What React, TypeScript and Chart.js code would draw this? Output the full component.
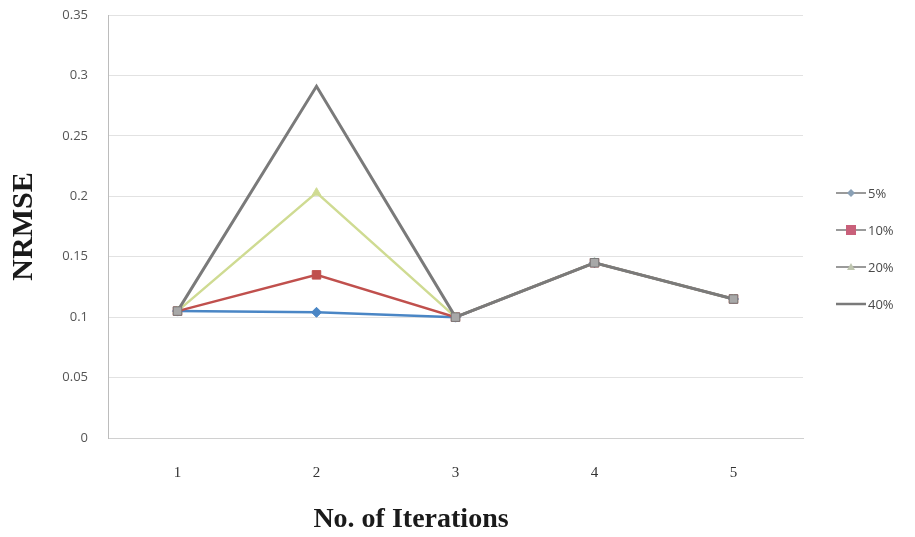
import React, { useEffect, useRef } from "react";
import { Chart, registerables } from "chart.js";

Chart.register(...registerables);

const categories = ["1", "2", "3", "4", "5"];
const seriesNames = ["5%", "10%", "20%", "40%"];
const s5 = [0.105, 0.104, 0.1, 0.145, 0.115];
const s10 = [0.105, 0.135, 0.1, 0.145, 0.115];
const s20 = [0.105, 0.203, 0.1, 0.145, 0.115];
const s40 = [0.105, 0.291, 0.1, 0.145, 0.115];
const yTickLabels = ["0", "0.05", "0.1", "0.15", "0.2", "0.25", "0.3", "0.35"];
const xTitle = "No. of Iterations";
const yTitle = "NRMSE";

const colors = ["#4a86c5", "#c0504d", "#cfdb92", "#7a7a7a"];
const pointStyles = ["rectRot", "rect", "triangle", "rect"];

const customPlugin = {
  id: "custom",
  afterDraw(chart: any) {
    const ctx = chart.ctx;
    const area = chart.chartArea;
    ctx.save();
    // x title
    ctx.font = "bold 28px 'Liberation Serif'";
    ctx.fillStyle = "#1a1a1a";
    ctx.textAlign = "center";
    ctx.textBaseline = "middle";
    ctx.fillText(xTitle, area.left + 303, chart.height - 17);
    // legend
    ctx.font = "13px 'Open Sans'";
    ctx.textAlign = "left";
    seriesNames.forEach((name, i) => {
      const y = 193 + i * 37;
      const x0 = area.right + 33;
      ctx.strokeStyle = i === 3 ? "#7a7a7a" : "#9a9a9a";
      ctx.lineWidth = i === 3 ? 2.5 : 2;
      ctx.beginPath();
      ctx.moveTo(x0, y);
      ctx.lineTo(x0 + 30, y);
      ctx.stroke();
      const cx = x0 + 15;
      if (i === 0) {
        ctx.fillStyle = "#8aa0b5";
        ctx.beginPath();
        ctx.moveTo(cx, y - 4);
        ctx.lineTo(cx + 4, y);
        ctx.lineTo(cx, y + 4);
        ctx.lineTo(cx - 4, y);
        ctx.closePath();
        ctx.fill();
      } else if (i === 1) {
        ctx.fillStyle = "#c9607a";
        ctx.fillRect(cx - 5, y - 5, 10, 10);
      } else if (i === 2) {
        ctx.fillStyle = "#bfc6b0";
        ctx.beginPath();
        ctx.moveTo(cx, y - 4);
        ctx.lineTo(cx + 4, y + 3);
        ctx.lineTo(cx - 4, y + 3);
        ctx.closePath();
        ctx.fill();
      }
      ctx.fillStyle = "#4a4a4a";
      ctx.textBaseline = "middle";
      ctx.fillText(name, x0 + 32, y + 1);
    });
    ctx.restore();
  },
};

export default function App() {
  const ref = useRef<HTMLCanvasElement>(null);
  useEffect(() => {
    document.body.style.margin = "0";
    const data = [s5, s10, s20, s40];
    const chart = new Chart(ref.current!, {
      type: "line",
      data: {
        labels: categories,
        datasets: data.map((d, i) => ({
          label: seriesNames[i],
          data: d,
          borderColor: colors[i],
          backgroundColor: i === 3 ? "#a8a8a8" : colors[i],
          pointBorderColor: colors[i],
          pointStyle: pointStyles[i],
          pointRadius: i === 3 ? [6, 0, 6, 6, 6] : i === 1 ? 6 : 5,
          pointBorderWidth: 1,
          borderWidth: i === 3 ? 3 : 2.5,
          tension: 0,
          order: 4 - i,
        })),
      },
      options: {
        responsive: false,
        animation: false,
        events: [],
        layout: { padding: { left: 0, right: 112, top: 15, bottom: 0 } },
        plugins: { legend: { display: false }, tooltip: { enabled: false } },
        scales: {
          x: {
            offset: true,
            grid: { display: false },
            border: { color: "#d0d0d0", width: 1 },
            ticks: {
              font: { family: "'Liberation Serif'", size: 15 },
              color: "#333",
              padding: 18,
            },
            afterFit(s: any) {
              s.height = 99;
            },
          },
          y: {
            min: 0,
            max: 0.35,
            grid: {
              color: "#e2e2e2",
              drawTicks: true,
              tickLength: 20,
              tickColor: "rgba(0,0,0,0)",
            },
            border: { color: "#bcbcbc", width: 1 },
            ticks: {
              stepSize: 0.05,
              padding: 0,
              font: { family: "'Open Sans'", size: 13 },
              color: "#555",
              callback: (_v: any, i: number) => yTickLabels[i],
            },
            title: {
              display: true,
              text: yTitle,
              font: { family: "'Liberation Serif'", size: 30, weight: "bold" },
              color: "#1a1a1a",
              padding: { top: 6, bottom: 0 },
            },
            afterFit(s: any) {
              s.width = 108;
            },
          },
        },
      },
      plugins: [customPlugin],
    });
    return () => chart.destroy();
  }, []);
  return (
    <div style={{ position: "absolute", left: 0, top: 0, width: 915, height: 537 }}>
      <canvas ref={ref} width={915} height={537} />
    </div>
  );
}
